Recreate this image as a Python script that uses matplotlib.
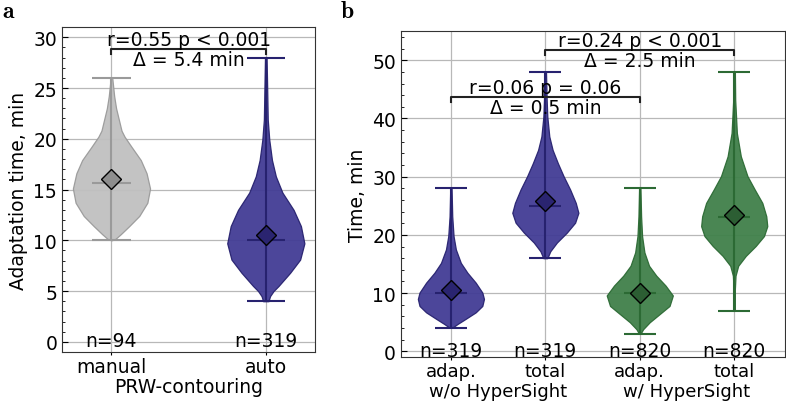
import numpy as np
import matplotlib.pyplot as plt
from matplotlib.ticker import MultipleLocator

plt.rcParams['font.family'] = ['DejaVu Sans']
plt.rcParams['mathtext.fontset'] = 'cm'
plt.rcParams['font.size'] = 13.5

# ---- panel a: adaptation time, manual vs auto
a_labels = ['manual', 'auto']
a_n = [94, 319]
a_min = [10, 4]
a_max = [26, 28]
a_median = [15.6, 10.0]
a_mean = [16.0, 10.5]
# violin outline: value -> relative half width
manual_y = [10.0, 10.1, 10.6, 11.0, 11.4, 12.4, 13.7, 15.1, 16.6, 17.9, 19.2, 20.2, 20.8, 21.9, 23.0, 24.2, 26.0]
manual_w = [0.0, 0.09, 0.24, 0.35, 0.46, 0.72, 0.93, 1.0, 0.91, 0.76, 0.52, 0.34, 0.26, 0.19, 0.12, 0.07, 0.02]
auto_y = [4.0, 4.5, 5.0, 5.5, 6.8, 8.1, 9.7, 11.4, 13.0, 14.7, 16.3, 17.9, 19.9, 21.9, 25.1, 28.0]
auto_w = [0.07, 0.11, 0.2, 0.33, 0.63, 0.89, 1.0, 0.91, 0.72, 0.43, 0.26, 0.16, 0.09, 0.05, 0.035, 0.02]

# ---- panel b: adaptation / total time with and without HyperSight
b_labels = ['adap.', 'total', 'adap.', 'total']
b_groups = ['w/o HyperSight', 'w/ HyperSight']
b_n = [319, 319, 820, 820]
b_min = [4, 16, 3, 7]
b_max = [28, 48, 28, 48]
b_median = [10.0, 25.0, 10.0, 23.0]
b_mean = [10.6, 25.8, 10.0, 23.4]
adap_wo_y = [4.1, 4.7, 5.6, 6.7, 7.8, 9.0, 10.1, 11.8, 13.5, 15.2, 17.5, 19.8, 23.2, 28.0]
adap_wo_w = [0.05, 0.2, 0.45, 0.75, 0.95, 1.0, 0.95, 0.75, 0.5, 0.3, 0.15, 0.08, 0.04, 0.02]
total_wo_y = [16.0, 17.2, 18.7, 20.4, 22.1, 23.8, 25.5, 27.8, 30.1, 32.3, 34.6, 36.9, 40.3, 43.2, 48.0]
total_wo_w = [0.06, 0.15, 0.35, 0.65, 0.9, 1.0, 0.92, 0.75, 0.55, 0.38, 0.22, 0.12, 0.06, 0.04, 0.02]
adap_w_y = [3.2, 3.8, 5.0, 6.4, 7.8, 9.6, 11.3, 13.0, 14.7, 17.0, 19.8, 23.2, 28.0]
adap_w_w = [0.04, 0.1, 0.3, 0.6, 0.9, 1.0, 0.78, 0.5, 0.28, 0.14, 0.07, 0.04, 0.02]
total_w_y = [7.0, 10.7, 13.0, 14.7, 16.4, 18.1, 19.8, 21.5, 23.2, 25.5, 27.8, 30.1, 33.5, 37.5, 43.2, 48.0]
total_w_w = [0.02, 0.02, 0.04, 0.12, 0.35, 0.65, 0.9, 1.0, 0.97, 0.85, 0.62, 0.4, 0.2, 0.08, 0.03, 0.02]

gray_face, gray_line, gray_mean = '#c0c0c0', '#9a9a9a', '#8e8e8e'
blue_face, blue_line, blue_mean = '#423c95', '#27226f', '#2a2470'
green_face, green_line, green_mean = '#40804a', '#2c6a34', '#2c5e33'


def violin(ax, pos, ys, ws, half, cap, vmin, vmax, med, mean, face, line, mcol):
    w = np.array(ws) * half
    ax.fill_betweenx(ys, pos - w, pos + w, facecolor=face, edgecolor=line,
                     linewidth=0.9, alpha=0.95, zorder=2)
    ax.vlines(pos, vmin, vmax, color=line, lw=1.5, zorder=3)
    ax.hlines([vmin, vmax, med], pos - cap, pos + cap, color=line, lw=1.5, zorder=3)
    ax.plot(pos, mean, marker='D', markersize=10, markerfacecolor=mcol,
            markeredgecolor='black', markeredgewidth=1, zorder=4)


def bracket(ax, x1, x2, y, h, top, bottom):
    ax.plot([x1, x1, x2, x2], [y - h, y, y, y - h], color='#222222', lw=1.5, zorder=5)
    ax.text((x1 + x2) / 2, y, top, ha='center', va='bottom', zorder=5)
    ax.text((x1 + x2) / 2, y - 0.2 * h, bottom, ha='center', va='top', zorder=5)


def style(ax, minor):
    ax.grid(True, color='#b8b8b8', lw=0.9, zorder=0)
    ax.set_axisbelow(True)
    ax.yaxis.set_minor_locator(MultipleLocator(minor))
    ax.tick_params(axis='y', which='major', direction='in', length=4)
    ax.tick_params(axis='y', which='minor', direction='in', length=2.5)
    ax.tick_params(axis='x', length=2, pad=1.5)
    for s in ax.spines.values():
        s.set_color('#333333')


fig = plt.figure(figsize=(7.86, 4.02), dpi=100)

# panel a
axa = fig.add_axes([0.079, 0.122, 0.322, 0.808])
prof_a = [(manual_y, manual_w), (auto_y, auto_w)]
cols_a = [(gray_face, gray_line, gray_mean), (blue_face, blue_line, blue_mean)]
for i in range(2):
    violin(axa, i, prof_a[i][0], prof_a[i][1], 0.25, 0.125, a_min[i], a_max[i],
           a_median[i], a_mean[i], *cols_a[i])
    axa.text(i, 0.15, 'n=%d' % a_n[i], ha='center', va='center', zorder=5)
bracket(axa, 0, 1, 28.85, 0.45, 'r=0.55 p < 0.001', '\u0394 = 5.4 min')
axa.set_xlim(-0.32, 1.32)
axa.set_ylim(-1, 31)
axa.set_xticks([0, 1])
axa.set_xticklabels(a_labels)
axa.set_yticks(range(0, 31, 5))
axa.set_xlabel('PRW-contouring', labelpad=1)
axa.set_ylabel('Adaptation time, min', labelpad=4)
style(axa, 1)

# panel b
axb = fig.add_axes([0.510, 0.109, 0.489, 0.811])
prof_b = [(adap_wo_y, adap_wo_w), (total_wo_y, total_wo_w),
          (adap_w_y, adap_w_w), (total_w_y, total_w_w)]
cols_b = [(blue_face, blue_line, blue_mean)] * 2 + [(green_face, green_line, green_mean)] * 2
for i in range(4):
    violin(axb, i, prof_b[i][0], prof_b[i][1], 0.35, 0.17, b_min[i], b_max[i],
           b_median[i], b_mean[i], *cols_b[i])
    axb.text(i, 0.2, 'n=%d' % b_n[i], ha='center', va='center', zorder=5)
bracket(axb, 0, 2, 43.7, 0.8, 'r=0.06 p = 0.06', '\u0394 = 0.5 min')
bracket(axb, 1, 3, 51.7, 0.8, 'r=0.24 p < 0.001', '\u0394 = 2.5 min')
axb.set_xlim(-0.53, 3.54)
axb.set_ylim(-1, 55)
axb.set_xticks(range(4))
axb.set_xticklabels(b_labels, fontsize=13)
axb.set_yticks(range(0, 51, 10))
axb.set_ylabel('Time, min', labelpad=4)
style(axb, 2)
for k, g in enumerate(b_groups):
    x = fig.transFigure.inverted().transform(axb.transData.transform((2 * k + 0.5, 0)))[0]
    fig.text(x, 0.003, g, ha='center', va='bottom', fontsize=13)

fig.text(0.003, 0.972, r'$\mathbf{a}$', fontsize=17, va='center')
fig.text(0.432, 0.972, r'$\mathbf{b}$', fontsize=17, va='center')

fig.savefig('out.png', dpi=100)
